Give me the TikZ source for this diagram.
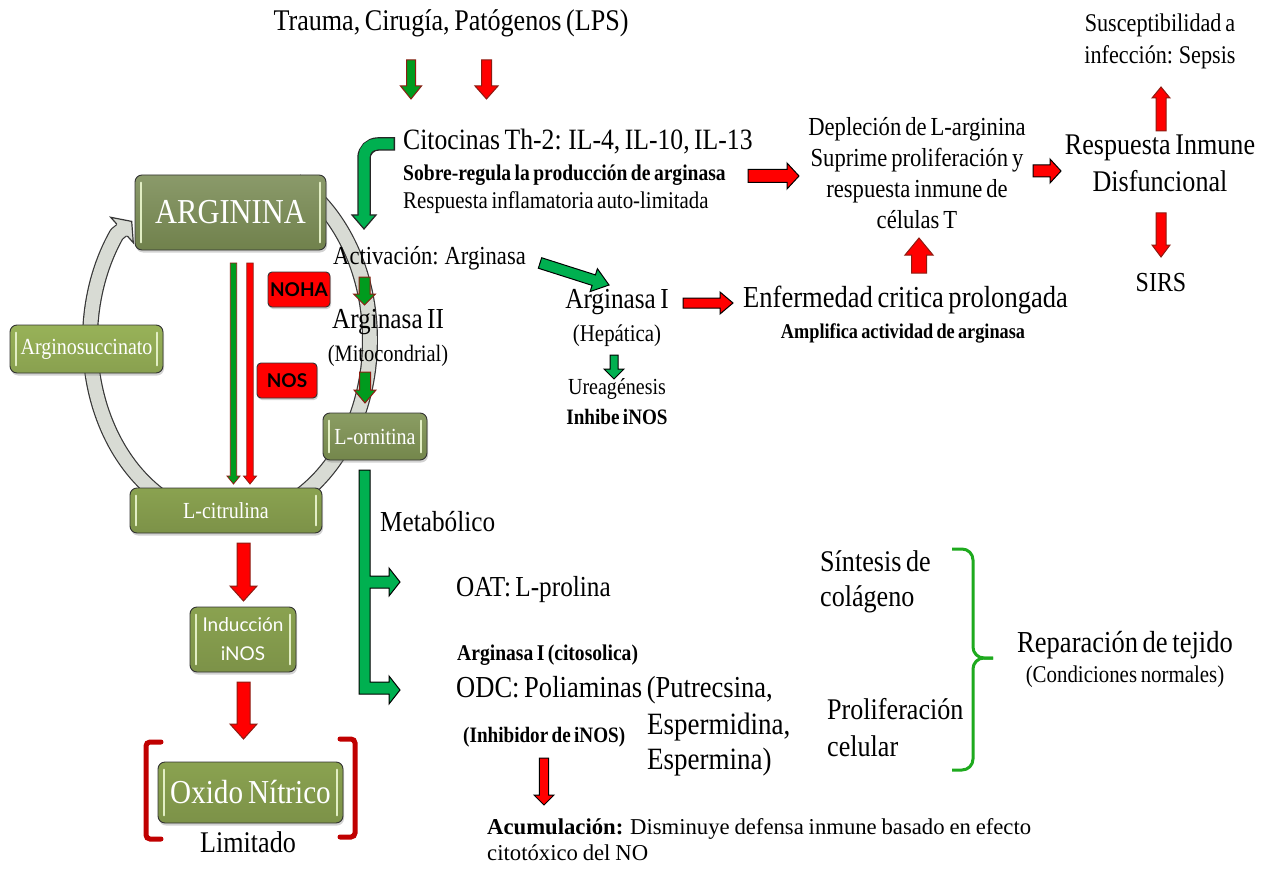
\documentclass[tikz,border=0pt]{standalone}
\usepackage{fontspec}
\setmainfont{Liberation Serif}[FakeStretch=0.87, WordSpace=0.7]
\newfontfamily\plainserif{Liberation Serif}[WordSpace=0.85]
\newfontfamily\gill{Lato}
\usetikzlibrary{calc,shadows}

\definecolor{rimred}{RGB}{140,28,18}
\definecolor{arrred}{RGB}{255,0,0}
\definecolor{arrgreen}{RGB}{0,176,80}
\definecolor{leafgreen}{RGB}{0,155,30}
\definecolor{ringfill}{RGB}{216,219,212}
\definecolor{ringedge}{RGB}{55,55,55}
\definecolor{bracered}{RGB}{192,0,0}
\definecolor{bracegreen}{RGB}{30,170,30}
\definecolor{oliveA}{RGB}{118,136,80}
\definecolor{oliveB}{RGB}{152,178,88}
\definecolor{oliveC}{RGB}{126,146,82}
\definecolor{oliveD}{RGB}{138,162,80}
\definecolor{glosscol}{RGB}{226,238,196}

\newcommand\fsz[2]{\fontsize{#1}{#2}\selectfont}

% block arrow: style, from, to, half shaft, half head, head length
\newcommand\barrow[6]{%
  \coordinate (bas) at #2; \coordinate (bae) at #3;
  \coordinate (bah) at ($(bae)!#6!(bas)$);
  \draw[#1] ($(bas)!#4!90:(bae)$) -- ($(bah)!#4!90:(bae)$) -- ($(bah)!#5!90:(bae)$)
    -- (bae) -- ($(bah)!#5!-90:(bae)$) -- ($(bah)!#4!-90:(bae)$) -- ($(bas)!#4!-90:(bae)$) -- cycle;
}

\tikzset{
  redrim/.style={fill=arrred, draw=rimred, line width=1pt, line join=miter},
  redblk/.style={fill=arrred, draw=black, line width=1pt, line join=miter},
  greenrim/.style={fill=leafgreen, draw=rimred, line width=1pt, line join=miter},
  greenblk/.style={fill=arrgreen, draw=black, line width=1pt, line join=miter},
  olivebox/.style={draw=black!80, line width=0.9pt, rounded corners=7pt, text=white,
    inner sep=0pt, align=center,
    drop shadow={shadow xshift=1pt, shadow yshift=-2.5pt, opacity=0.35}},
  redtag/.style={fill=arrred, draw=black!80, line width=0.9pt, rounded corners=4pt,
    inner sep=0pt, font=\gill\bfseries\fsz{19}{22},
    drop shadow={shadow xshift=1pt, shadow yshift=-2pt, opacity=0.35}},
  gloss/.style={glosscol, line width=2pt, line cap=round},
  lbl/.style={inner sep=0pt, align=center},
}

\begin{document}
\begin{tikzpicture}[x=1pt,y=-1pt]
\useasboundingbox (0,0) rectangle (1282,869);
\fill[white] (0,0) rectangle (1282,869);

% ---------- urea cycle ring ----------
\draw[line width=16pt, ringedge, line join=round]
  plot[domain=-62:216, samples=150, variable=\t] ({230+140*cos(\t)},{340+180*sin(\t)}) -- (122,230);
\draw[line width=13.6pt, ringfill, line join=round]
  plot[domain=-62:216, samples=150, variable=\t] ({230+140*cos(\t)},{340+180*sin(\t)}) -- (122.6,229.5);
\fill[ringfill] (110.7,217.3) -- (131.7,221.4) -- (133.3,242.7) -- cycle;
\draw[ringedge, line width=1.2pt, line join=miter]
  (116.7,224) -- (110.7,217.3) -- (131.7,221.4) -- (133.3,242.7) -- (127.3,236);

% ---------- boxes ----------
\node[olivebox, top color=oliveA!85!white, bottom color=oliveA!95!black,
      minimum width=191pt, minimum height=75pt, font=\fsz{35}{38}] (arg) at (230.5,212.5) {ARGININA};
\node[olivebox, top color=oliveB, bottom color=oliveB!90!black,
      minimum width=153pt, minimum height=48pt, font=\fsz{23}{26}] (asuc) at (86.5,349) {Arginosuccinato};
\node[olivebox, top color=oliveC!90!white, bottom color=oliveC!92!black,
      minimum width=104pt, minimum height=47pt, font=\fsz{23}{26}] (orn) at (375,436.5) {L-ornitina};
\node[olivebox, top color=oliveD, bottom color=oliveD!90!black,
      minimum width=192pt, minimum height=45pt, font=\fsz{23}{26}] (cit) at (226,510.5) {L-citrulina};
\node[olivebox, top color=oliveD, bottom color=oliveD!90!black,
      minimum width=106pt, minimum height=65pt, font=\gill\fsz{19}{29}] (ind) at (243,639.5) {Inducción\\iNOS};
\node[olivebox, top color=oliveD, bottom color=oliveD!90!black,
      minimum width=185pt, minimum height=61pt, font=\fsz{33.5}{36}] (oxn) at (250.5,792.5) {Oxido Nítrico};
\foreach \b in {arg,asuc,orn,cit,ind,oxn}{
  \draw[gloss] ([shift={(6pt,-8pt)}]\b.north west) -- ([shift={(6pt,8pt)}]\b.south west);
  \draw[gloss] ([shift={(-6pt,-8pt)}]\b.north east) -- ([shift={(-6pt,8pt)}]\b.south east);
}

\node[redtag, minimum width=62pt, minimum height=35pt] (noha) at (299,289.5) {NOHA};
\node[redtag, minimum width=60pt, minimum height=35pt] (nos) at (287,380.5) {NOS};

% NO-synthase pair of thin arrows
\coordinate (nosA) at (233.5,263); \coordinate (nosAe) at (233.5,484);
\coordinate (nosB) at (250,263);   \coordinate (nosBe) at (250,484);
\barrow{greenrim,line width=0.8pt}{(nosA)}{(nosAe)}{3.2pt}{6.5pt}{8pt}
\barrow{redrim,line width=0.8pt}{(nosB)}{(nosBe)}{3.2pt}{6.5pt}{8pt}

% brackets around nitric oxide
\draw[bracered, line width=5pt, rounded corners=4pt, line cap=round]
  (161,742) -- (146,742) -- (146,839) -- (161,839);
\draw[bracered, line width=5pt, rounded corners=4pt, line cap=round]
  (340,739) -- (355,739) -- (355,837) -- (340,837);

% left column arrows
\barrow{redrim}{(243.5,543)}{(243.5,601)}{6.5pt}{13.5pt}{15pt}
\barrow{redrim}{(243.5,682)}{(243.5,739)}{6.5pt}{13.5pt}{15pt}

% ---------- texts ----------
\node[lbl, font=\fsz{30}{32}] (trauma) at (451,23) {Trauma, Cirugía, Patógenos (LPS)};
\node[lbl, anchor=west, font=\fsz{29.5}{33}] (cito) at (403,142) {Citocinas Th-2: IL-4, IL-10, IL-13};
\node[lbl, anchor=west, font=\bfseries\fsz{22.5}{24}] (sobre) at (403,175) {Sobre-regula la producción de arginasa};
\node[lbl, anchor=west, font=\fsz{24}{24}] (resp) at (403,203) {Respuesta inflamatoria auto-limitada};
\node[lbl, anchor=west, font=\fsz{26}{28}] (activ) at (333,258) {Activación: Arginasa};
\node[lbl, font=\fsz{29}{31}] (arg2) at (388,322) {Arginasa II};
\node[lbl, font=\fsz{23.5}{24}] (mito) at (388,356) {(Mitocondrial)};
\node[lbl, font=\fsz{29}{31}] (arg1) at (617,302) {Arginasa I};
\node[lbl, font=\fsz{24}{24}] (hep) at (617,336) {(Hepática)};
\node[lbl, font=\fsz{23}{24}] (urea) at (617,389) {Ureagénesis};
\node[lbl, font=\bfseries\fsz{22}{24}] (inhibe) at (617,417) {Inhibe iNOS};
\node[lbl, anchor=west, font=\fsz{30.5}{33}] (enf) at (743,300) {Enfermedad critica prolongada};
\node[lbl, font=\bfseries\fsz{21}{22}] (ampl) at (903,333) {Amplifica actividad de arginasa};
\node[lbl, font=\fsz{26}{31}] (depl) at (917,173) {Depleción de L-arginina\\Suprime proliferación y\\respuesta inmune de\\células T};
\node[lbl, font=\fsz{30}{37}] (rinm) at (1160,163) {Respuesta Inmune\\Disfuncional};
\node[lbl, font=\fsz{25.5}{32}] (susc) at (1160,41) {Susceptibilidad a\\infección: Sepsis};
\node[lbl, font=\fsz{27.5}{31}] (sirs) at (1161,283) {SIRS};
\node[lbl, anchor=west, font=\fsz{29}{29}] (metab) at (380,522) {Metabólico};
\node[lbl, anchor=west, font=\fsz{29}{31}] (oat) at (456,590) {OAT: L-prolina};
\node[lbl, anchor=west, font=\bfseries\fsz{22.5}{21}] (argcit) at (457,655) {Arginasa I (citosolica)};
\node[lbl, anchor=west, font=\fsz{30.5}{31}] (odc) at (456,690) {ODC: Poliaminas (Putrecsina,};
\node[lbl, anchor=west, font=\fsz{31}{35}, align=left] (espm) at (647,745) {Espermidina,\\Espermina)};
\node[lbl, anchor=west, font=\bfseries\fsz{22}{21}] (inhib) at (463,737) {(Inhibidor de iNOS)};
\node[lbl, anchor=north west, align=left, font=\plainserif\fsz{22.7}{26}] (acum) at (487,818)
  {\textbf{Acumulación:} Disminuye defensa inmune basado en efecto\\citotóxico del NO};
\node[lbl, anchor=west, align=left, font=\fsz{30}{35}] (sint) at (820,582) {Síntesis de\\colágeno};
\node[lbl, anchor=west, align=left, font=\fsz{30}{37}] (prol) at (827,728) {Proliferación\\celular};
\node[lbl, font=\fsz{30.5}{31}] (repar) at (1125,645) {Reparación de tejido};
\node[lbl, font=\fsz{24}{22}] (cond) at (1125,677) {(Condiciones normales)};
\node[lbl, font=\fsz{30}{29}] (limit) at (248,842) {Limitado};

% ---------- arrows ----------
% trauma arrows
\barrow{greenrim}{(411,60)}{(411,99)}{4.5pt}{10.5pt}{13pt}
\barrow{redrim}{(486.5,60)}{(486.5,99)}{5pt}{11.5pt}{13pt}

% bent cytokine arrow
\draw[line width=13.5pt, black!85, rounded corners=14pt] (395,144) -- (364,144) -- (364,216);
\draw[line width=11pt, arrgreen, rounded corners=13pt] (393.7,144) -- (364,144) -- (364,217);
\fill[arrgreen] (352,215) -- (376,215) -- (364,229) -- cycle;
\draw[black!85, line width=1.2pt, line join=miter] (358.5,215) -- (352,215) -- (364,229) -- (376,215) -- (369.5,215);

% arginase II pathway (small green arrows)
\barrow{greenrim}{(364.5,277)}{(364.5,305)}{5.5pt}{11pt}{11pt}
\barrow{greenrim}{(365,372)}{(365,403)}{5.5pt}{11pt}{13pt}

% activation towards arginase I
\barrow{greenblk}{(540,263)}{(609,285)}{5.5pt}{12pt}{16pt}
\barrow{greenblk}{(614,355)}{(614,379)}{4pt}{10pt}{10pt}

% red horizontal arrows
\barrow{redblk}{(748,176)}{(799,176)}{6.5pt}{13pt}{12pt}
\barrow{redblk}{(683,303)}{(733,303)}{5pt}{11pt}{13pt}
\barrow{redblk}{(1033,171)}{(1061,171)}{6pt}{12pt}{11pt}

% up / down red arrows
\barrow{redrim}{(919,273)}{(919,238)}{7.5pt}{14pt}{17pt}
\barrow{redrim}{(1161,131)}{(1161,87)}{5pt}{9pt}{11pt}
\barrow{redrim}{(1161,213)}{(1161,257)}{5pt}{9pt}{12pt}
\barrow{redblk}{(544,758)}{(544,805)}{4.7pt}{10pt}{10pt}

% metabolic branch from ornithine
\draw[greenblk] (359,470) -- (370,470) -- (370,576) -- (389,576) -- (389,568) -- (400,582)
  -- (389,596) -- (389,588) -- (370,588) -- (370,682) -- (389,682) -- (389,676) -- (400,690)
  -- (389,704) -- (389,694) -- (359,694) -- cycle;

% tissue repair brace
\draw[bracegreen, line width=3pt, rounded corners=11pt]
  (952,549) -- (973,549) -- (973,658) -- (993,658);
\draw[bracegreen, line width=3pt, rounded corners=11pt]
  (993,658) -- (973,658) -- (973,770) -- (952,770);
\end{tikzpicture}
\end{document}
